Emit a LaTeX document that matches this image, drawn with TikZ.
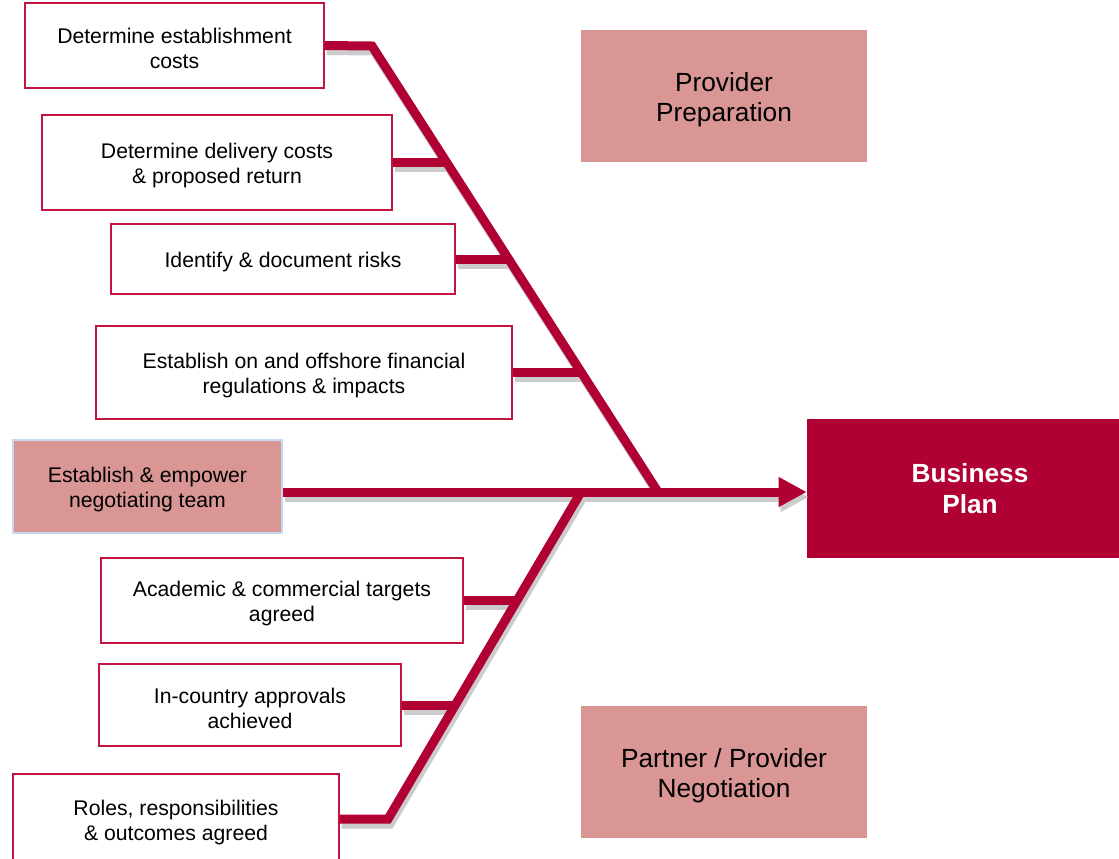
\documentclass[tikz,border=0pt]{standalone}
\usepackage{fontspec}
\setmainfont{Liberation Sans}
\usetikzlibrary{arrows.meta}
\definecolor{bone}{RGB}{176,0,52}
\definecolor{rose}{RGB}{217,150,148}
\definecolor{edgered}{RGB}{196,20,64}
\definecolor{paleblue}{RGB}{198,217,241}
\definecolor{shade}{RGB}{204,204,204}

% struts that set the text slightly below the box centre
\newcommand\lowsmall{\rule{0pt}{16.1pt}}
\newcommand\lowbig{\rule{0pt}{20.2pt}}

% all spines and ribs of the fishbone, drawn with the current bonepath style
\newcommand\fishbones{%
  \draw[bonepath] (b1.east) -- (c1) -- (e1);
  \draw[bonepath] (b2.east) -- (j2);
  \draw[bonepath] (b3.east) -- (j3);
  \draw[bonepath] (b4.east) -- (j4);
  \draw[bonepath] (t2) -- (c2) -- (b8.east);
  \draw[bonepath] (b6.east) -- (j6);
  \draw[bonepath] (b7.east) -- (j7);
  \draw[bonepath,-{Triangle[length=21pt,width=21pt]}] (b5.east |- e1) -- (bp.west |- e1);
}

\begin{document}
\begin{tikzpicture}[x=0.75pt,y=-0.75pt,
  sz/.style 2 args={minimum width={#1*0.75pt},minimum height={#2*0.75pt}},
  cause/.style={draw=edgered,line width=1.1pt,fill=white,inner sep=0pt,align=center,
    font=\fontsize{15.9}{18.8}\selectfont},
  stage/.style={fill=rose,inner sep=0pt,align=center,
    font=\fontsize{19.7}{22.5}\selectfont},
  goal/.style={fill=bone,text=white,inner sep=0pt,align=center,
    font=\fontsize{19.7}{23.2}\selectfont\bfseries},
  lead/.style={fill=rose,draw=paleblue,line width=1.5pt,inner sep=0pt,align=center,
    font=\fontsize{15.9}{18.8}\selectfont},
  line join=miter]

\path[use as bounding box,fill=white] (0,0) rectangle (1119,858);

% upper causes
\node[cause,sz={299}{85}]  (b1) at (174.5,45.5) {\lowsmall Determine establishment\\costs};
\node[cause,sz={350}{95}]  (b2) at (217,162.5)  {\lowsmall Determine delivery costs\\\& proposed return};
\node[cause,sz={344}{70}]  (b3) at (283,259)    {\lowsmall Identify \& document risks};
\node[cause,sz={416}{93}]  (b4) at (304,372.5)  {\lowsmall Establish on and offshore financial\\regulations \& impacts};

% main spine start
\node[lead,sz={269}{93}]   (b5) at (147.5,486.5) {\lowsmall Establish \& empower\\negotiating team};

% lower causes
\node[cause,sz={362}{85}]  (b6) at (282,600.5)  {\lowsmall Academic \& commercial targets\\agreed};
\node[cause,sz={302}{82}]  (b7) at (250,705)    {\lowsmall In-country approvals\\achieved};
\node[cause,sz={326}{90}]  (b8) at (176,819)    {\lowsmall Roles, responsibilities\\\& outcomes agreed};

% stage labels and outcome
\node[stage,sz={286}{132}] (p1) at (724,96)  {\lowbig Provider\\Preparation};
\node[stage,sz={286}{132}] (p2) at (724,772) {\lowbig Partner / Provider\\Negotiation};
\node[goal,sz={326}{139}]  (bp) at (970,488.5) {Business\\Plan};

% spine geometry
\coordinate (c1) at (372,46);
\coordinate (e1) at (658,492);
\coordinate (j2) at (446.7,162.5);
\coordinate (j3) at (508.6,259);
\coordinate (j4) at (581.4,372.5);
\coordinate (t2) at (581,492);
\coordinate (c2) at (388,819);
\coordinate (j6) at (516.6,600.5);
\coordinate (j7) at (454.5,705);

% drop shadow, then the bones themselves
\begin{scope}[transform canvas={xshift=1.5pt,yshift=-3.75pt},
  bonepath/.style={draw=shade,line width=6.75pt}]
  \fishbones
\end{scope}
\begin{scope}[bonepath/.style={draw=bone,line width=6.75pt}]
  \fishbones
\end{scope}

\end{tikzpicture}
\end{document}
